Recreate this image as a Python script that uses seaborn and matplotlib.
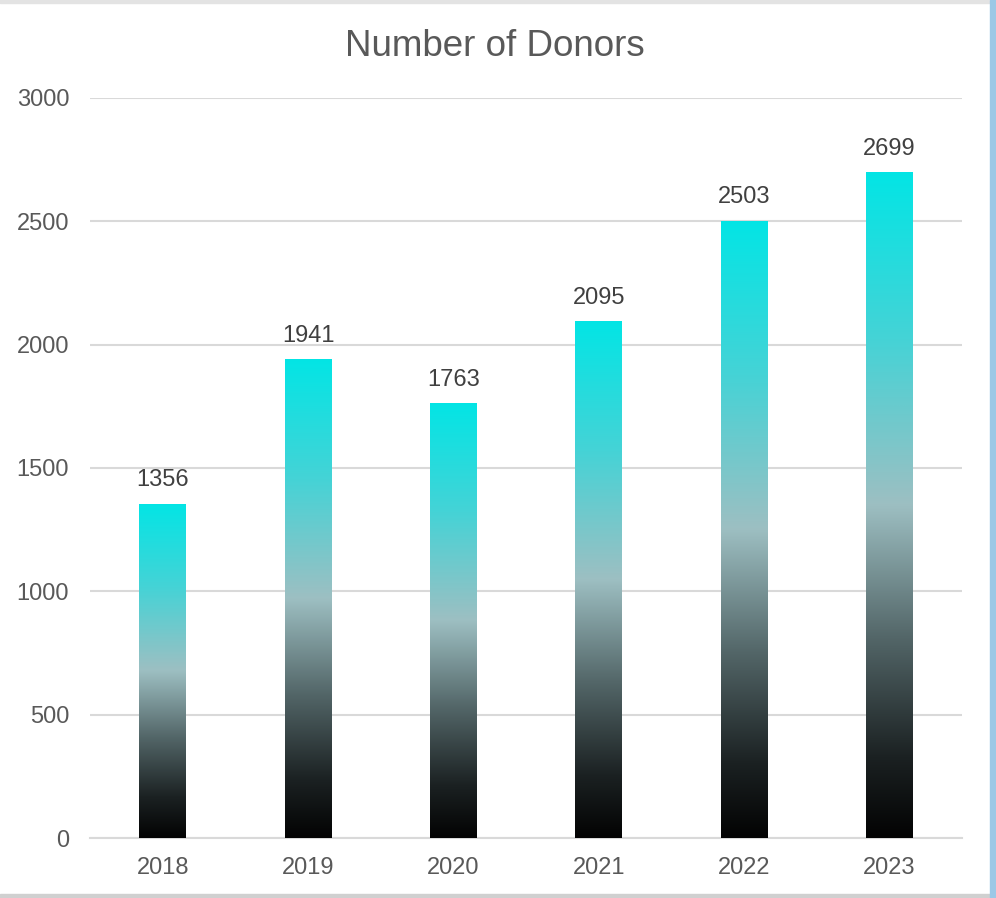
import matplotlib
matplotlib.use('Agg')
import matplotlib.pyplot as plt
from matplotlib.colors import LinearSegmentedColormap
from matplotlib.patches import Rectangle
import seaborn as sns
import numpy as np
import pandas as pd

years = ['2018', '2019', '2020', '2021', '2022', '2023']
donors = [1356, 1941, 1763, 2095, 2503, 2699]
y_ticks = [0, 500, 1000, 1500, 2000, 2500, 3000]

sns.set_style('white')
plt.rcParams['font.family'] = ['Liberation Sans', 'DejaVu Sans']

df = pd.DataFrame({'year': years, 'donors': donors})

fig = plt.figure(figsize=(9.96, 8.98), dpi=100)
ax = fig.add_axes([0.0904, 0.0668, 0.8755, 0.8241])

sns.barplot(data=df, x='year', y='donors', ax=ax, width=0.32,
            color='#05E6E6', saturation=1, zorder=3)

# gradient per bar: black at the bottom, grey-teal in the middle, cyan on top
grad_cmap = LinearSegmentedColormap.from_list('donor_grad', [
    (0.0, '#030303'), (0.12, '#1b2122'), (0.3, '#536668'),
    (0.5, '#9dbfc2'), (0.75, '#45d3d6'), (1.0, '#03e5e5')])
grad = np.linspace(0, 1, 256).reshape(-1, 1)
for bar in ax.patches:
    x0, y0 = bar.get_x(), bar.get_y()
    w, h = bar.get_width(), bar.get_height()
    img = ax.imshow(grad, cmap=grad_cmap, origin='lower', aspect='auto',
                    extent=[x0, x0 + w, y0, y0 + h], zorder=3,
                    interpolation='bicubic')
    img.set_clip_path(bar)
    bar.set_alpha(0)

ax.set_xlim(-0.5, len(years) - 0.5)
ax.set_ylim(0, 3000)
ax.set_yticks(y_ticks)
ax.set_yticklabels([str(t) for t in y_ticks])
ax.yaxis.grid(True, color='#d9d9d9', linewidth=1.5, zorder=0)
ax.set_axisbelow(True)
for s in ['top', 'right', 'left']:
    ax.spines[s].set_visible(False)
ax.spines['bottom'].set_color('#d9d9d9')
ax.spines['bottom'].set_linewidth(1.5)
ax.tick_params(axis='both', length=0, labelsize=17, labelcolor='#595959')
ax.tick_params(axis='x', pad=14)
ax.tick_params(axis='y', pad=15)
ax.set_xlabel('')
ax.set_ylabel('')

for i, v in enumerate(donors):
    ax.annotate(str(v), (i, v), xytext=(0, 9), textcoords='offset points',
                ha='center', va='bottom', fontsize=17, color='#404040')

fig.text(0.497, 0.948, 'Number of Donors', ha='center', va='center',
         fontsize=26.5, color='#595959')

# frame around the chart area
fig.patches.append(Rectangle((0, 0.997), 1, 0.003, transform=fig.transFigure,
                             color='#e3e3e3', zorder=0))
fig.patches.append(Rectangle((0, 0), 1, 0.004, transform=fig.transFigure,
                             color='#d0d0d0', zorder=0))
fig.patches.append(Rectangle((0.994, 0), 0.006, 1, transform=fig.transFigure,
                             color='#9cc8e6', zorder=0))

plt.savefig('out.png', dpi=100)
